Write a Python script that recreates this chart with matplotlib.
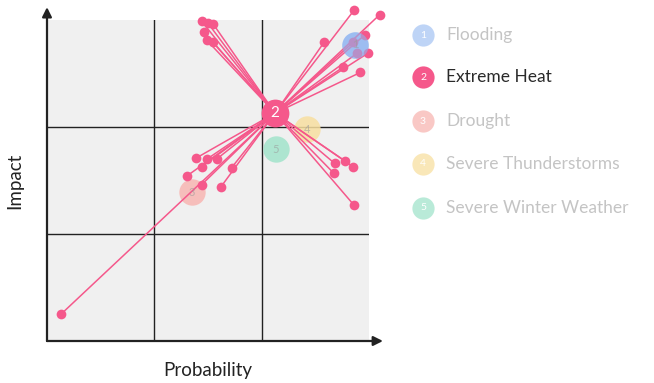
import matplotlib.pyplot as plt

plt.rcParams['font.family'] = ['Lato', 'DejaVu Sans']

# hazard hubs (probability, impact) on a 0-3 grid
hazards = ['Flooding', 'Extreme Heat', 'Drought', 'Severe Thunderstorms', 'Severe Winter Weather']
hub_x = [2.87, 2.125, 1.35, 2.42, 2.13]
hub_y = [2.77, 2.13, 1.39, 1.98, 1.79]
hub_colors = ['#A9C6F4', '#F45C8B', '#F8B6B2', '#F8DFA0', '#A2E4CB']

# extreme heat scenario end points (spokes from hub 2)
spoke_x = [1.44, 1.50, 1.55, 1.46, 1.49, 1.55,
           2.86, 3.10, 2.58, 2.96, 2.85, 2.99, 2.89, 2.76, 2.92,
           1.39, 1.49, 1.58, 1.44, 1.30, 1.44, 1.72, 1.62, 0.13,
           2.68, 2.78, 2.85, 2.67, 2.86]
spoke_y = [2.99, 2.97, 2.96, 2.89, 2.81, 2.79,
           3.09, 3.05, 2.79, 2.86, 2.79, 2.69, 2.69, 2.56, 2.51,
           1.71, 1.70, 1.70, 1.63, 1.54, 1.46, 1.62, 1.44, 0.25,
           1.66, 1.68, 1.63, 1.57, 1.27]

pink = '#F5588B'

fig = plt.figure(figsize=(6.54, 3.83), dpi=100)
ax = fig.add_axes([47 / 654, 42 / 383, 322 / 654, 321 / 383])
ax.set_xlim(0, 3)
ax.set_ylim(0, 3)
ax.set_facecolor('#F0F0F0')
for s in ax.spines.values():
    s.set_visible(False)
ax.set_xticks([])
ax.set_yticks([])

# quadrant grid
for v in [1, 2]:
    ax.plot([v, v], [0, 3], color='#222222', lw=1.0, zorder=1)
    ax.plot([0, 3], [v, v], color='#222222', lw=1.0, zorder=1)

# axes with arrows
ax.annotate('', xy=(3.13, 0), xytext=(0, 0), annotation_clip=False,
            arrowprops=dict(arrowstyle='-|>', color='#222222', lw=1.6, mutation_scale=14,
                            shrinkA=0, shrinkB=0))
ax.annotate('', xy=(0, 3.12), xytext=(0, 0), annotation_clip=False,
            arrowprops=dict(arrowstyle='-|>', color='#222222', lw=1.6, mutation_scale=14,
                            shrinkA=0, shrinkB=0))

ax.set_xlabel('Probability', fontsize=13.5, color='#222222', labelpad=15)
ax.set_ylabel('Impact', fontsize=13.5, color='#222222', labelpad=17)

# other hazard hubs (faded)
for i in [0, 2, 3, 4]:
    ax.plot(hub_x[i], hub_y[i], 'o', ms=19, color=hub_colors[i], alpha=0.85,
            mec='none', zorder=2, clip_on=False)

# spokes
for x, y in zip(spoke_x, spoke_y):
    ax.plot([hub_x[1], x], [hub_y[1], y], color=pink, lw=1.1, zorder=3, clip_on=False)
ax.plot(spoke_x, spoke_y, 'o', ms=7, color=pink, mec='none', zorder=4, clip_on=False)

# flooding hub drawn semi-transparent over its spokes
ax.plot(hub_x[0], hub_y[0], 'o', ms=19, color='#8FB4F0', alpha=0.6, mec='none', zorder=5)

# hub labels
for i in range(5):
    if i == 1:
        continue
    ax.text(hub_x[i], hub_y[i], str(i + 1), ha='center', va='center', fontsize=8,
            color='#9A9A9A', alpha=0.6, zorder=6)
ax.plot(hub_x[1], hub_y[1], 'o', ms=20, color=pink, mec='none', zorder=7)
ax.text(hub_x[1], hub_y[1], '2', ha='center', va='center', fontsize=11,
        color='white', zorder=8)

# legend
lax = fig.add_axes([0, 0, 1, 1])
lax.set_xlim(0, 654)
lax.set_ylim(383, 0)
lax.axis('off')
lax.patch.set_visible(False)
leg_y = [35, 77, 121, 164, 208]
for i, name in enumerate(hazards):
    active = i == 1
    lax.plot(423, leg_y[i], 'o', ms=16, color=hub_colors[i] if not active else pink,
             alpha=1.0 if active else 0.75, mec='none')
    lax.text(423, leg_y[i], str(i + 1), ha='center', va='center', fontsize=7.5,
             color='white')
    lax.text(446, leg_y[i], name, ha='left', va='center', fontsize=12.5,
             color='#2A2A2A' if active else '#C4C4C4')

fig.savefig('out.png', dpi=100)
